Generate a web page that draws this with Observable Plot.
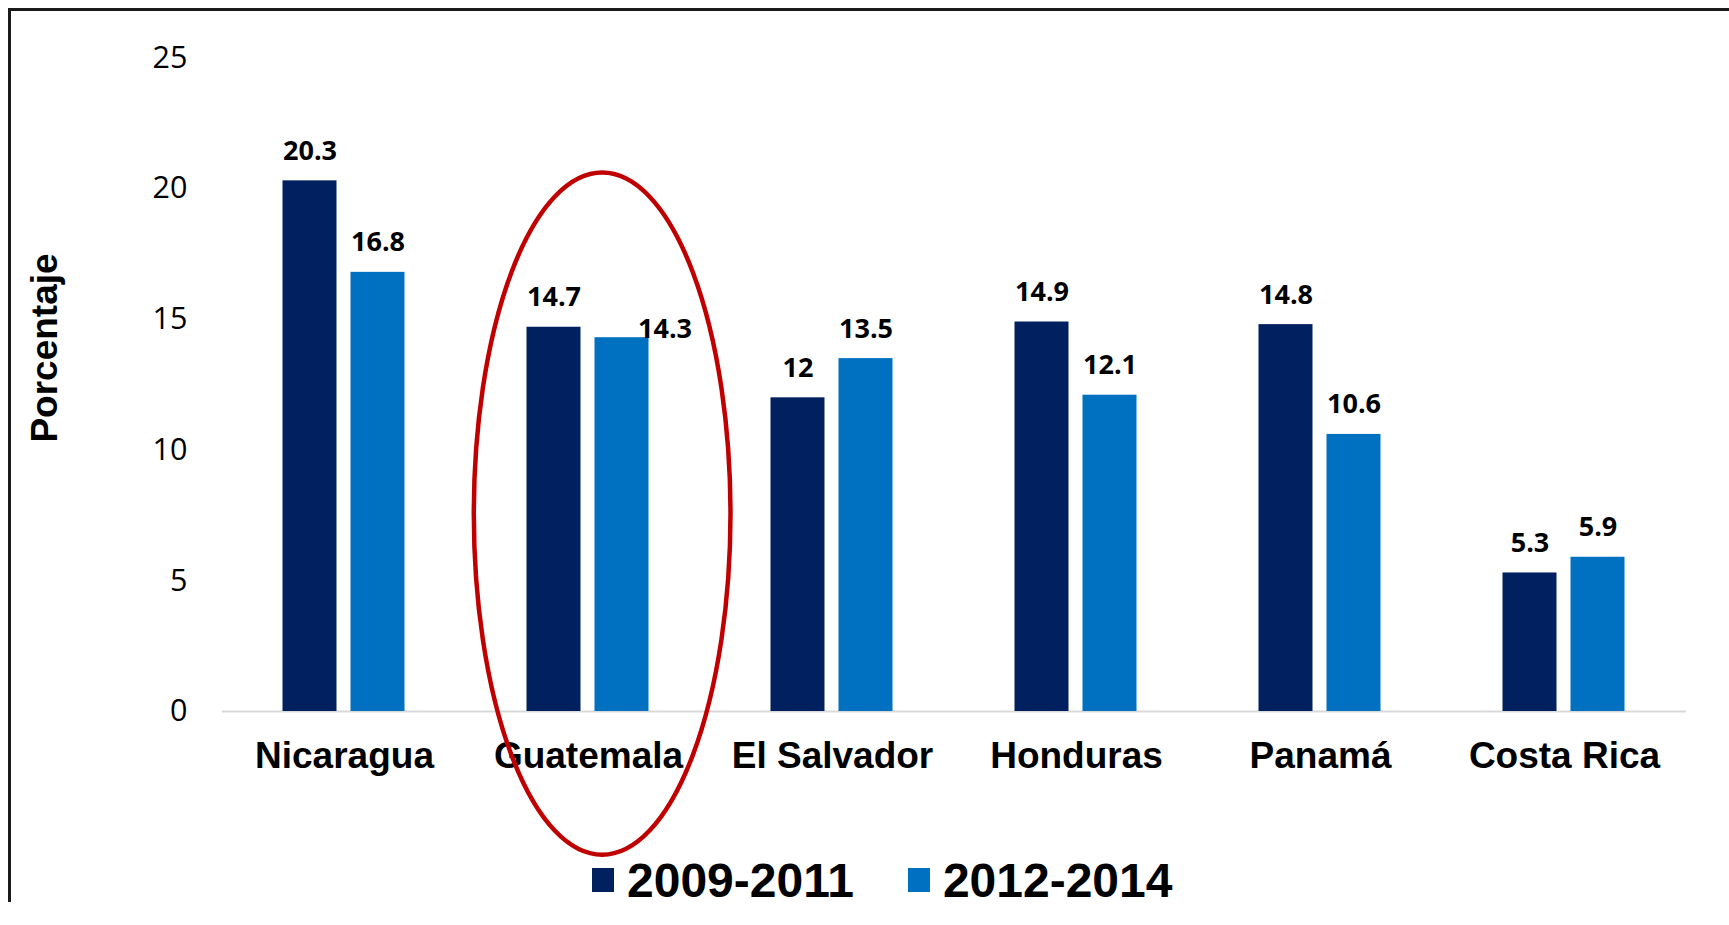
<!DOCTYPE html>
<html>
<head>
<meta charset="utf-8">
<script src="https://cdn.jsdelivr.net/npm/d3@7"></script>
<script src="https://cdn.jsdelivr.net/npm/@observablehq/plot@0.6"></script>
<style>
  html, body { margin: 0; padding: 0; background: #fff; }
  #wrap { position: relative; width: 1729px; }
  #frame { position: absolute; left: 8px; top: 8px; width: 1800px; height: 1000px;
           border-left: 3px solid #1a1a1a; border-top: 3px solid #1a1a1a; box-sizing: border-box; pointer-events: none; }
  #chart svg { display: block; overflow: visible; }
  #legend { display: flex; align-items: center; height: 44px; padding-left: 592px;
            font-family: "Liberation Sans", Arial, sans-serif; font-weight: bold; font-size: 48px; color: #000; }
  #legend .sw { display: inline-block; width: 22px; height: 24px; margin-right: 13px; }
  #legend .item { display: flex; align-items: center; }
  #legend .item + .item { margin-left: 54px; }
</style>
</head>
<body>
<div id="wrap">
  <div id="chart"></div>
  <div id="legend"></div>
  <div id="frame"></div>
</div>
<script>
const countries = ["Nicaragua", "Guatemala", "El Salvador", "Honduras", "Panamá", "Costa Rica"];
const seriesNames = ["2009-2011", "2012-2014"];
const values2009 = [20.3, 14.7, 12, 14.9, 14.8, 5.3];
const values2012 = [16.8, 14.3, 13.5, 12.1, 10.6, 5.9];
const seriesColors = ["#002060", "#0070C0"];
const yTicks = [0, 5, 10, 15, 20, 25];
const yAxisTitle = "Porcentaje";
const highlightCountry = "Guatemala";
const highlightYExtent = [-5.5, 20.6];

const data = countries.flatMap((c, i) => [
  {country: c, series: seriesNames[0], value: values2009[i]},
  {country: c, series: seriesNames[1], value: values2012[i]}
]);
const isMoved = d => d.country === highlightCountry && d.series === seriesNames[1];

const plot = Plot.plot({
  width: 1729,
  height: 858,
  marginLeft: 220.5,
  marginRight: 42,
  marginTop: 57.5,
  marginBottom: 147,
  style: {fontFamily: "'Open Sans', sans-serif", color: "#000", background: "transparent", overflow: "visible"},
  fx: {domain: countries, padding: 0, label: null},
  x: {domain: seriesNames, paddingInner: 0.2, paddingOuter: 0.87, axis: null},
  y: {domain: [0, 25]},
  color: {domain: seriesNames, range: seriesColors},
  marks: [
    Plot.ruleY([0], {stroke: "#d9d9d9", strokeWidth: 2}),
    Plot.barY(data, {fx: "country", x: "series", y: "value", fill: "series"}),
    Plot.text(data.filter(d => !isMoved(d)), {
      fx: "country", x: "series", y: "value", text: d => String(d.value),
      lineAnchor: "bottom", dy: -21, fontSize: 27, fontWeight: "bold", fill: "#000"
    }),
    Plot.text(data.filter(isMoved), {
      fx: "country", x: "series", y: "value", text: d => String(d.value),
      lineAnchor: "bottom", dx: 43, dy: 0, fontSize: 27, fontWeight: "bold", fill: "#000"
    }),
    Plot.axisY({ticks: yTicks, tickSize: 0, tickPadding: 35, fontSize: 30.5, label: null}),
    Plot.axisFx({anchor: "bottom", tickSize: 0, tickPadding: 30, fontSize: 37, fontWeight: "bold",
                 fontFamily: "'Liberation Sans', Arial, sans-serif", label: null})
  ]
});

// highlight ellipse around Guatemala, positioned via the plot's scales
const fxs = plot.scale("fx"), ys = plot.scale("y");
const bw = fxs.bandwidth;
const cx = fxs.apply(highlightCountry) + bw / 2 + bw * 0.058;
const yTop = ys.apply(highlightYExtent[1]), yBot = ys.apply(highlightYExtent[0]);
d3.select(plot).append("ellipse")
  .attr("cx", cx).attr("cy", (yTop + yBot) / 2)
  .attr("rx", bw * 0.526).attr("ry", (yBot - yTop) / 2)
  .attr("fill", "none").attr("stroke", "#C00000").attr("stroke-width", 4.5);

// y axis title
d3.select(plot).append("text")
  .attr("transform", "translate(44,348) rotate(-90)")
  .attr("text-anchor", "middle").attr("dy", "0.35em")
  .style("font-family", "'Liberation Sans', Arial, sans-serif")
  .style("font-weight", "bold").style("font-size", "37px").attr("fill", "#000")
  .text(yAxisTitle);

document.getElementById("chart").appendChild(plot);

const legend = d3.select("#legend");
seriesNames.forEach((s, i) => {
  const item = legend.append("div").attr("class", "item");
  item.append("span").attr("class", "sw").style("background", seriesColors[i]);
  item.append("span").text(s);
});
</script>
</body>
</html>
